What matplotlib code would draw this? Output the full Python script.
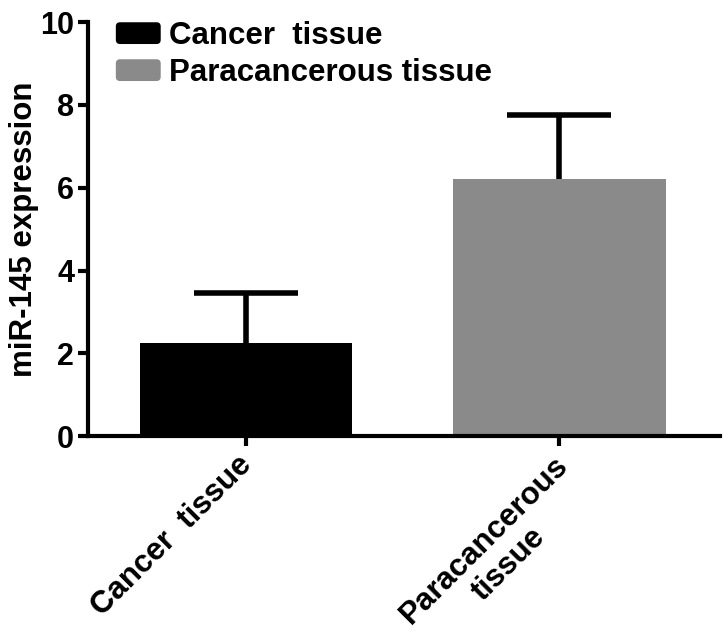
import matplotlib
matplotlib.use("Agg")
import matplotlib.pyplot as plt
import matplotlib.transforms as mtransforms
from matplotlib.patches import FancyBboxPatch, Rectangle
from matplotlib.legend_handler import HandlerPatch

categories = ["Cancer  tissue", "Paracancerous\ntissue"]
legend_labels = ["Cancer  tissue", "Paracancerous tissue"]
means = [2.25, 6.22]
errors = [1.2, 1.53]
colors = ["#000000", "#8a8a8a"]
yticks = [0, 2, 4, 6, 8, 10]

plt.rcParams['font.family'] = ['Liberation Sans', 'DejaVu Sans']
plt.rcParams['font.weight'] = 'bold'

fig = plt.figure(figsize=(7.24, 6.33), dpi=100)
ax = fig.add_axes([0.1215, 0.311, 0.873, 0.654])

x = list(range(len(categories)))
bar_width = 0.68
bars = ax.bar(x, means, width=bar_width, color=colors, zorder=2)

# upper error bars only (stem + cap)
tops = [m + e for m, e in zip(means, errors)]
ax.vlines(x, means, tops, colors='black', linewidth=4, zorder=1)
cap_half = 0.166
ax.hlines(tops, [xi - cap_half for xi in x], [xi + cap_half for xi in x],
          colors='black', linewidth=4, zorder=1)

ax.set_xlim(-0.505, 1.514)
ax.set_ylim(0, 10)
ax.set_yticks(yticks)
ax.set_yticklabels([str(v) for v in yticks], fontsize=22, fontweight='bold')
ax.set_xticks(x)
ax.set_xticklabels([])

# rotated category labels, anchored under each tick
label_offsets_px = [(-9, -14), (-6, -14)]
for xi, lab, (dx, dy) in zip(x, categories, label_offsets_px):
    tr = ax.get_xaxis_transform() + mtransforms.ScaledTranslation(dx / 100, dy / 100, fig.dpi_scale_trans)
    ax.text(xi, 0, lab, transform=tr, rotation=45, ha='right', va='top',
            rotation_mode='anchor', fontsize=22.5, fontweight='bold',
            multialignment='center', clip_on=False)

ax.set_ylabel("miR-145 expression", fontsize=22.5, fontweight='bold', labelpad=0.5)

for s in ['top', 'right']:
    ax.spines[s].set_visible(False)
for s in ['left', 'bottom']:
    ax.spines[s].set_linewidth(3)
ax.tick_params(axis='both', width=3, length=7, direction='out', pad=3)


class RoundHandler(HandlerPatch):
    def create_artists(self, legend, orig_handle, xdescent, ydescent, width,
                       height, fontsize, trans):
        p = FancyBboxPatch((-xdescent + 1.5, -ydescent + 1.5), width - 3, height - 3,
                           boxstyle="round,pad=0,rounding_size=3",
                           facecolor=orig_handle.get_facecolor(),
                           edgecolor='none', transform=trans)
        return [p]


leg = ax.legend(handles=list(bars), labels=legend_labels, loc='upper left',
                bbox_to_anchor=(0.021, 1.035), frameon=False,
                prop={'size': 22.5, 'weight': 'bold'}, handlelength=1.57,
                handleheight=0.9, handletextpad=0.2, labelspacing=0.2,
                borderaxespad=0, handler_map={Rectangle: RoundHandler()})

fig.savefig("out.png", dpi=100)
